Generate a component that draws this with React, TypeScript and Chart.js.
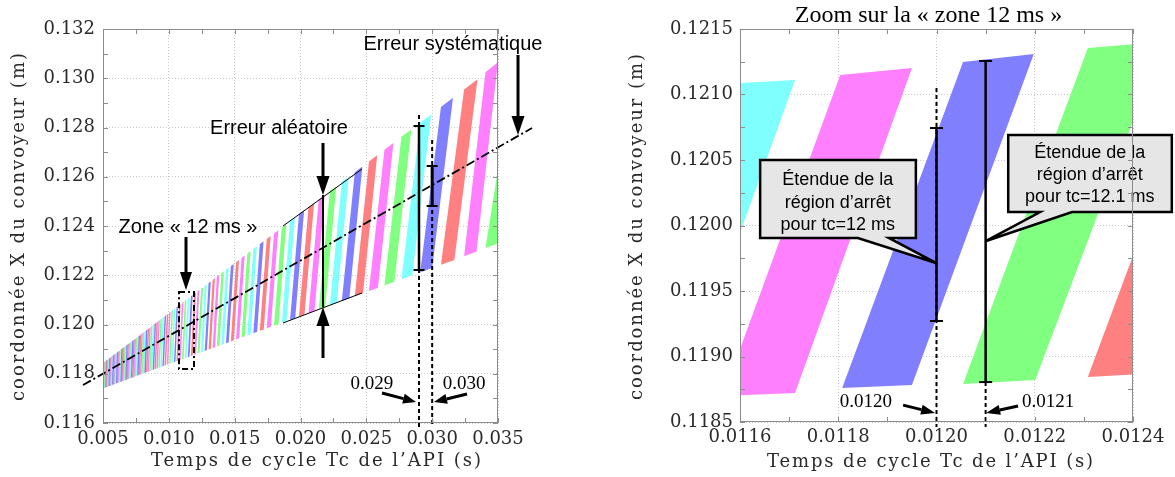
import React, { useEffect, useRef } from 'react';
import { Chart, registerables } from 'chart.js';

Chart.register(...registerables);

// ---------------- tick values ----------------
const leftXTicks = [0.005, 0.01, 0.015, 0.02, 0.025, 0.03, 0.035];
const leftYTicks = [0.116, 0.118, 0.12, 0.122, 0.124, 0.126, 0.128, 0.13, 0.132];
const zoomXTicks = [0.0116, 0.0118, 0.012, 0.0122, 0.0124];
const zoomYTicks = [0.1185, 0.119, 0.1195, 0.12, 0.1205, 0.121, 0.1215];

// ---------------- left chart: stop regions (one band per cycle count) ----------------
// band order of the first band (colour cycles with it)
const firstBandOrder = 114;
// x of each band's lower-left corner (band i runs from edge i at the bottom to edge i+1 at the top)
const bandEdgeX = [
  0.004985, 0.005029, 0.005075, 0.00512, 0.005167, 0.005215, 0.005263, 0.005313, 0.005363, 0.005415, 0.005467,
  0.00552, 0.005575, 0.00563, 0.005687, 0.005745, 0.005804, 0.005864, 0.005925, 0.005988, 0.006052,
  0.006117, 0.006184, 0.006253, 0.006323, 0.006394, 0.006467, 0.006542, 0.006619, 0.006697, 0.006777,
  0.00686, 0.006944, 0.00703, 0.007119, 0.007209, 0.007302, 0.007398, 0.007496, 0.007597, 0.0077,
  0.007807, 0.007916, 0.008028, 0.008144, 0.008263, 0.008385, 0.008511, 0.008642, 0.008776, 0.008914,
  0.009057, 0.009204, 0.009356, 0.009514, 0.009677, 0.009845, 0.01002, 0.0102, 0.010388, 0.010582,
  0.010784, 0.010993, 0.011211, 0.011438, 0.011674, 0.01192, 0.012177, 0.012445, 0.012725, 0.013018,
  0.013325, 0.013646, 0.013984, 0.014338, 0.014711, 0.015104, 0.015519, 0.015957, 0.01642, 0.016911,
  0.017432, 0.017987, 0.018578, 0.019209, 0.019884, 0.020609, 0.021388, 0.022229, 0.023138, 0.024125,
  0.025201, 0.026376, 0.027666, 0.02909, 0.030667, 0.032426, 0.03405, 0.036526,
];
// lowest stop position at each edge
const bandLowY = [
  0.117417, 0.117426, 0.117435, 0.117443, 0.117453, 0.117462, 0.117471, 0.117481, 0.117491, 0.117501, 0.117511,
  0.117521, 0.117532, 0.117543, 0.117554, 0.117565, 0.117577, 0.117589, 0.1176, 0.117613, 0.117625,
  0.117638, 0.117651, 0.117664, 0.117678, 0.117692, 0.117706, 0.117721, 0.117736, 0.117751, 0.117767,
  0.117783, 0.117799, 0.117816, 0.117833, 0.117851, 0.117869, 0.117888, 0.117907, 0.117926, 0.117947,
  0.117967, 0.117989, 0.11801, 0.118033, 0.118056, 0.11808, 0.118105, 0.11813, 0.118156, 0.118183,
  0.118211, 0.11824, 0.118269, 0.1183, 0.118332, 0.118365, 0.118399, 0.118434, 0.118471, 0.118509,
  0.118548, 0.118589, 0.118631, 0.118675, 0.118721, 0.118769, 0.11882, 0.118872, 0.118926, 0.118984,
  0.119043, 0.119106, 0.119172, 0.119241, 0.119314, 0.11939, 0.119471, 0.119557, 0.119647, 0.119743,
  0.119844, 0.119953, 0.120068, 0.120191, 0.120322, 0.120464, 0.120616, 0.12078, 0.120957, 0.121149,
  0.121359, 0.121588, 0.12184, 0.122118, 0.122425, 0.122768, 0.123104, 0.123587,
];
// highest stop position at each edge
const bandHighY = [
  0.118434, 0.118452, 0.11847, 0.118489, 0.118508, 0.118527, 0.118547, 0.118567, 0.118587, 0.118608, 0.118629,
  0.118651, 0.118673, 0.118695, 0.118718, 0.118742, 0.118766, 0.11879, 0.118815, 0.11884, 0.118866,
  0.118892, 0.11892, 0.118948, 0.118976, 0.119005, 0.119034, 0.119065, 0.119096, 0.119127, 0.11916,
  0.119193, 0.119227, 0.119262, 0.119298, 0.119335, 0.119372, 0.119411, 0.119451, 0.119492, 0.119534,
  0.119577, 0.119621, 0.119666, 0.119713, 0.119762, 0.119811, 0.119862, 0.119915, 0.119969, 0.120025,
  0.120083, 0.120143, 0.120204, 0.120268, 0.120334, 0.120402, 0.120473, 0.120546, 0.120622, 0.120701,
  0.120783, 0.120867, 0.120956, 0.121047, 0.121143, 0.121243, 0.121347, 0.121455, 0.121569, 0.121687,
  0.121812, 0.121942, 0.122079, 0.122222, 0.122373, 0.122532, 0.1227, 0.122878, 0.123065, 0.123264,
  0.123475, 0.1237, 0.123939, 0.124195, 0.124468, 0.124762, 0.125077, 0.125418, 0.125786, 0.126186,
  0.126621, 0.127097, 0.12762, 0.128197, 0.128835, 0.129548, 0.130246, 0.131449,
];
// mean stop position (systematic error)
const meanLineX = [0.00348, 0.03758];
const meanLineY = [0.11754, 0.12798];
// envelope of the random error
const envelopeX = [0.018671, 0.024671];
const envelopeTopY = [0.124, 0.126315];
const envelopeBottomY = [0.120061, 0.121279];

// ---------------- right chart: zoom on the 12 ms zone ----------------
// corners: lower-left, lower-right, upper-right, upper-left
const zoomBandColor = ['#80ffff', '#ff80ff', '#8080ff', '#80ff80', '#ff8080'];
const zoomBandX = [
  [0.011327, 0.011474, 0.011712, 0.011565],
  [0.011565, 0.011712, 0.01195, 0.011804],
  [0.011808, 0.01195, 0.012198, 0.012054],
  [0.012054, 0.012201, 0.012461, 0.012308],
  [0.012308, 0.012455, 0.012703, 0.012557],
];
const zoomBandY = [
  [0.118591, 0.11863, 0.121111, 0.12108],
  [0.118698, 0.118721, 0.121202, 0.121149],
  [0.118759, 0.118782, 0.121309, 0.121248],
  [0.11879, 0.118821, 0.121401, 0.121355],
  [0.118843, 0.118874, 0.121378, 0.121347],
];

// colours by band order modulo 5
const PALETTE = ['#8080ff', '#80ffff', '#80ff80', '#ff80ff', '#ff8080'];
const BAND_FILL = 0.58;
const MIN_BAND_PX = 1.5;

const TICK_FONT = 'DejaVu Serif';
const SANS = '"Liberation Sans", Arial, sans-serif';
const SERIF = '"Liberation Serif", "Times New Roman", serif';

// ---------------- helpers ----------------
function withMinor(t: number[]) {
  const out: number[] = [];
  for (let i = 0; i < t.length; i++) {
    out.push(t[i]);
    if (i < t.length - 1) out.push((t[i] + t[i + 1]) / 2);
  }
  return out;
}

function axis(ticks: number[], digits: number, isX: boolean, size: number, pad: number) {
  return {
    type: 'linear',
    position: isX ? 'bottom' : 'left',
    min: ticks[0],
    max: ticks[ticks.length - 1],
    afterBuildTicks: (s: any) => {
      s.ticks = ticks.map((v) => ({ value: v }));
    },
    afterFit: (s: any) => {
      if (isX) s.height = size;
      else s.width = size;
    },
    ticks: {
      callback: (v: any) => Number(v).toFixed(digits),
      font: { family: TICK_FONT, size: 18 },
      color: '#2a2a2a',
      padding: pad,
      maxRotation: 0,
      autoSkip: false,
    },
    grid: { color: '#c8c8c8', lineWidth: 1, drawTicks: false },
    border: { display: false, dash: [1, 2] },
  };
}

function spacedText(ctx: any, text: string, cx: number, cy: number, target: number, rotate: boolean) {
  ctx.save();
  ctx.translate(cx, cy);
  if (rotate) ctx.rotate(-Math.PI / 2);
  ctx.font = `18px "${TICK_FONT}"`;
  ctx.fillStyle = '#2a2a2a';
  ctx.letterSpacing = '0px';
  const w0 = ctx.measureText(text).width;
  const ls = (target - w0) / text.length;
  ctx.letterSpacing = `${ls}px`;
  ctx.textAlign = 'left';
  ctx.textBaseline = 'middle';
  ctx.fillText(text, -target / 2, 0);
  ctx.letterSpacing = '0px';
  ctx.restore();
}

function arrow(ctx: any, x1: number, y1: number, x2: number, y2: number, lw: number, hl: number, hw: number) {
  const a = Math.atan2(y2 - y1, x2 - x1);
  const bx = x2 - hl * Math.cos(a);
  const by = y2 - hl * Math.sin(a);
  ctx.lineWidth = lw;
  ctx.setLineDash([]);
  ctx.beginPath();
  ctx.moveTo(x1, y1);
  ctx.lineTo(bx, by);
  ctx.stroke();
  ctx.beginPath();
  ctx.moveTo(x2, y2);
  ctx.lineTo(bx + (hw / 2) * Math.sin(a), by - (hw / 2) * Math.cos(a));
  ctx.lineTo(bx - (hw / 2) * Math.sin(a), by + (hw / 2) * Math.cos(a));
  ctx.closePath();
  ctx.fill();
}

function seg(ctx: any, x1: number, y1: number, x2: number, y2: number, lw: number, dash: number[]) {
  ctx.lineWidth = lw;
  ctx.setLineDash(dash);
  ctx.beginPath();
  ctx.moveTo(x1, y1);
  ctx.lineTo(x2, y2);
  ctx.stroke();
  ctx.setLineDash([]);
}

function capBar(ctx: any, x: number, y1: number, y2: number, lw: number, cap: number) {
  seg(ctx, x, y1, x, y2, lw, []);
  seg(ctx, x - cap / 2, y1, x + cap / 2, y1, 2, []);
  seg(ctx, x - cap / 2, y2, x + cap / 2, y2, 2, []);
}

function label(ctx: any, text: string, x: number, y: number, font: string) {
  ctx.font = font;
  ctx.fillStyle = '#000';
  ctx.textAlign = 'center';
  ctx.textBaseline = 'middle';
  ctx.fillText(text, x, y);
}

function framePlugin(xTicks: number[], yTicks: number[], titles: any[]) {
  return {
    id: 'frame',
    afterDraw(chart: any) {
      const { ctx, chartArea: a } = chart;
      const { x, y } = chart.scales;
      ctx.save();
      ctx.strokeStyle = '#8c8c8c';
      ctx.lineWidth = 1;
      ctx.setLineDash([]);
      ctx.strokeRect(a.left + 0.5, a.top + 0.5, a.right - a.left - 1, a.bottom - a.top - 1);
      ctx.beginPath();
      for (const v of withMinor(xTicks)) {
        const p = Math.round(x.getPixelForValue(v)) + 0.5;
        ctx.moveTo(p, a.bottom);
        ctx.lineTo(p, a.bottom - 5);
        ctx.moveTo(p, a.top);
        ctx.lineTo(p, a.top + 5);
      }
      for (const v of withMinor(yTicks)) {
        const p = Math.round(y.getPixelForValue(v)) + 0.5;
        ctx.moveTo(a.left, p);
        ctx.lineTo(a.left + 5, p);
        ctx.moveTo(a.right, p);
        ctx.lineTo(a.right - 5, p);
      }
      ctx.stroke();
      for (const t of titles) spacedText(ctx, t.text, t.cx, t.cy, t.width, t.rotate);
      ctx.restore();
    },
  };
}

// ---------------- left chart plugins ----------------
const leftBandsPlugin = {
  id: 'leftBands',
  beforeDatasetsDraw(chart: any) {
    const { ctx, chartArea: a } = chart;
    const { x, y } = chart.scales;
    ctx.save();
    ctx.beginPath();
    ctx.rect(a.left, a.top, a.right - a.left, a.bottom - a.top);
    ctx.clip();
    for (let i = 0; i < bandEdgeX.length - 1; i++) {
      const n = firstBandOrder - i;
      const x0 = bandEdgeX[i];
      const x1 = bandEdgeX[i + 1];
      const px0 = x.getPixelForValue(x0);
      const px1 = x.getPixelForValue(x1);
      const pw = Math.max(BAND_FILL * (px1 - px0), MIN_BAND_PX);
      const yb0 = bandLowY[i];
      const yb1 = bandLowY[i] + BAND_FILL * (bandLowY[i + 1] - bandLowY[i]);
      const yt0 = bandHighY[i + 1];
      const yt1 = bandHighY[i + 1] + BAND_FILL * (bandHighY[i + 1] - bandHighY[i]);
      ctx.fillStyle = PALETTE[n % 5];
      ctx.beginPath();
      ctx.moveTo(px0, y.getPixelForValue(yb0));
      ctx.lineTo(px0 + pw, y.getPixelForValue(yb1));
      ctx.lineTo(px1 + pw, y.getPixelForValue(yt1));
      ctx.lineTo(px1, y.getPixelForValue(yt0));
      ctx.closePath();
      ctx.fill();
    }
    ctx.restore();
  },
};

const leftNotes = {
  random: { x: 0.021709, tipTop: 0.125259, tipBottom: 0.120711, fromTop: 0.12737, fromBottom: 0.118639, tx: 0.018367, ty: 0.12798 },
  system: { tx: 0.031583, ty: 0.131391, ax: 0.03652, from: 0.130944, tip: 0.127695 },
  zone: { tx: 0.011456, ty: 0.123959, ax: 0.011304, from: 0.123553, tip: 0.121401, x0: 0.010772, x1: 0.011911, y0: 0.11819, y1: 0.12132 },
  tc029: { x: 0.029, dashTop: 0.128508, dashBottom: 0.115838, barTop: 0.128061, barBottom: 0.122213, lx: 0.02543, ly: 0.117584, ax0: 0.02619, ay0: 0.117218, ax1: 0.028773, ay1: 0.116853 },
  tc030: { x: 0.03, dashTop: 0.127492, dashBottom: 0.115838, barTop: 0.126437, barBottom: 0.124812, lx: 0.032418, ly: 0.117584, ax0: 0.032646, ay0: 0.117177, ax1: 0.030139, ay1: 0.116853 },
};

const leftNotesPlugin = {
  id: 'leftNotes',
  afterDatasetsDraw(chart: any) {
    const { ctx } = chart;
    const X = (v: number) => chart.scales.x.getPixelForValue(v);
    const Y = (v: number) => chart.scales.y.getPixelForValue(v);
    ctx.save();
    ctx.strokeStyle = '#000';
    ctx.fillStyle = '#000';
    const r = leftNotes.random;
    seg(ctx, X(r.x), Y(r.tipTop), X(r.x), Y(r.tipBottom), 2, []);
    arrow(ctx, X(r.x), Y(r.fromTop), X(r.x), Y(r.tipTop), 3, 19, 13);
    arrow(ctx, X(r.x), Y(r.fromBottom), X(r.x), Y(r.tipBottom), 3, 19, 13);
    label(ctx, 'Erreur aléatoire', X(r.tx), Y(r.ty), `20px ${SANS}`);
    const s = leftNotes.system;
    label(ctx, 'Erreur systématique', X(s.tx), Y(s.ty), `20px ${SANS}`);
    arrow(ctx, X(s.ax), Y(s.from), X(s.ax), Y(s.tip), 3, 19, 13);
    const z = leftNotes.zone;
    label(ctx, 'Zone « 12 ms »', X(z.tx), Y(z.ty), `20px ${SANS}`);
    arrow(ctx, X(z.ax), Y(z.from), X(z.ax), Y(z.tip), 3, 18, 12);
    ctx.lineWidth = 2;
    ctx.setLineDash([6, 3, 2, 3]);
    ctx.strokeRect(X(z.x0), Y(z.y1), X(z.x1) - X(z.x0), Y(z.y0) - Y(z.y1));
    ctx.setLineDash([]);
    for (const [k, txt] of [['tc029', '0.029'], ['tc030', '0.030']] as const) {
      const t: any = (leftNotes as any)[k];
      seg(ctx, X(t.x), Y(t.dashTop), X(t.x), Y(t.dashBottom), 2, [4, 3]);
      capBar(ctx, X(t.x), Y(t.barTop), Y(t.barBottom), k === 'tc030' ? 3 : 2.5, 11);
      label(ctx, txt, X(t.lx), Y(t.ly), `19px ${SERIF}`);
      arrow(ctx, X(t.ax0), Y(t.ay0), X(t.ax1), Y(t.ay1), 3, 13, 10);
    }
    ctx.restore();
  },
};

// ---------------- right chart plugins ----------------
const zoomBandsPlugin = {
  id: 'zoomBands',
  beforeDatasetsDraw(chart: any) {
    const { ctx, chartArea: a } = chart;
    const { x, y } = chart.scales;
    ctx.save();
    ctx.beginPath();
    ctx.rect(a.left, a.top, a.right - a.left, a.bottom - a.top);
    ctx.clip();
    zoomBandX.forEach((xs, i) => {
      const ys = zoomBandY[i];
      ctx.fillStyle = zoomBandColor[i];
      ctx.beginPath();
      xs.forEach((xv, j) => {
        const px = x.getPixelForValue(xv);
        const py = y.getPixelForValue(ys[j]);
        if (j === 0) ctx.moveTo(px, py);
        else ctx.lineTo(px, py);
      });
      ctx.closePath();
      ctx.fill();
    });
    ctx.restore();
  },
};

const zoomNotes = {
  tc120: { x: 0.012, dashTop: 0.12105, dashBottom: 0.118462, barTop: 0.120744, barBottom: 0.119271, lx: 0.011856, ly: 0.118652, ax0: 0.011932, ay0: 0.118629, ax1: 0.011997, ay1: 0.118569 },
  tc121: { x: 0.0121, barTop: 0.121256, barBottom: 0.118805, dashBottom: 0.118462, lx: 0.012227, ly: 0.118652, ax0: 0.012166, ay0: 0.118622, ax1: 0.012101, ay1: 0.118569 },
  box1: { x0: 0.011641, x1: 0.011958, top: 0.1205, bottom: 0.119905, baseL: 0.01184, baseR: 0.011903, tipX: 0.011999, tipY: 0.119714, tx: 0.011799, lines: [0.120347, 0.120172, 0.120004], text: ['Étendue de la', 'région d’arrêt', 'pour tc=12 ms'] },
  box2: { x0: 0.012146, x1: 0.012479, top: 0.120691, bottom: 0.120103, baseL: 0.012211, baseR: 0.012276, tipX: 0.012101, tipY: 0.119882, tx: 0.012312, lines: [0.120553, 0.120385, 0.120218], text: ['Étendue de la', 'région d’arrêt', 'pour tc=12.1 ms'] },
};

const zoomNotesPlugin = {
  id: 'zoomNotes',
  afterDatasetsDraw(chart: any) {
    const { ctx } = chart;
    const X = (v: number) => chart.scales.x.getPixelForValue(v);
    const Y = (v: number) => chart.scales.y.getPixelForValue(v);
    ctx.save();
    ctx.strokeStyle = '#000';
    ctx.fillStyle = '#000';
    const a = zoomNotes.tc120;
    seg(ctx, X(a.x), Y(a.dashTop), X(a.x), Y(a.dashBottom), 2, [4, 3]);
    capBar(ctx, X(a.x), Y(a.barTop), Y(a.barBottom), 2.5, 13);
    const b = zoomNotes.tc121;
    capBar(ctx, X(b.x), Y(b.barTop), Y(b.barBottom), 2.5, 13);
    seg(ctx, X(b.x), Y(b.barBottom), X(b.x), Y(b.dashBottom), 2, [4, 3]);
    for (const [t, txt] of [[a, '0.0120'], [b, '0.0121']] as any) {
      label(ctx, txt, X(t.lx), Y(t.ly), `19px ${SERIF}`);
      ctx.fillStyle = '#000';
      arrow(ctx, X(t.ax0), Y(t.ay0), X(t.ax1), Y(t.ay1), 3, 14, 10);
    }
    for (const bx of [zoomNotes.box1, zoomNotes.box2]) {
      ctx.beginPath();
      ctx.moveTo(X(bx.x0), Y(bx.top));
      ctx.lineTo(X(bx.x1), Y(bx.top));
      ctx.lineTo(X(bx.x1), Y(bx.bottom));
      ctx.lineTo(X(bx.baseR), Y(bx.bottom));
      ctx.lineTo(X(bx.tipX), Y(bx.tipY));
      ctx.lineTo(X(bx.baseL), Y(bx.bottom));
      ctx.lineTo(X(bx.x0), Y(bx.bottom));
      ctx.closePath();
      ctx.fillStyle = '#e6e6e6';
      ctx.fill();
      ctx.lineWidth = 2.5;
      ctx.lineJoin = 'miter';
      ctx.strokeStyle = '#000';
      ctx.stroke();
      bx.text.forEach((t, i) => label(ctx, t, X(bx.tx), Y(bx.lines[i]), `18px ${SANS}`));
    }
    ctx.restore();
  },
  afterDraw(chart: any) {
    const { ctx, chartArea: ar } = chart;
    ctx.save();
    label(ctx, 'Zoom sur la « zone 12 ms »', (ar.left + ar.right) / 2 - 8, 16, `24px ${SERIF}`);
    ctx.restore();
  },
};

const baseOptions = {
  responsive: false,
  maintainAspectRatio: false,
  animation: false,
  events: [],
  plugins: { legend: { display: false }, tooltip: { enabled: false }, title: { display: false } },
};

export default function App() {
  const leftRef = useRef<HTMLCanvasElement>(null);
  const rightRef = useRef<HTMLCanvasElement>(null);

  useEffect(() => {
    const left = new Chart(leftRef.current as HTMLCanvasElement, {
      type: 'line',
      data: {
        datasets: [
          {
            data: meanLineX.map((v, i) => ({ x: v, y: meanLineY[i] })),
            borderColor: '#000',
            borderWidth: 1.8,
            borderDash: [9, 3, 2, 3],
            pointRadius: 0,
            clip: false,
          },
          {
            data: envelopeX.map((v, i) => ({ x: v, y: envelopeTopY[i] })),
            borderColor: '#000',
            borderWidth: 1,
            pointRadius: 0,
          },
          {
            data: envelopeX.map((v, i) => ({ x: v, y: envelopeBottomY[i] })),
            borderColor: '#000',
            borderWidth: 1,
            pointRadius: 0,
          },
        ],
      },
      options: {
        ...baseOptions,
        layout: { padding: { top: 29, right: 77, left: 0, bottom: 0 } },
        scales: {
          x: axis(leftXTicks, 3, true, 54, 6),
          y: axis(leftYTicks, 3, false, 103, 8),
        },
      } as any,
      plugins: [
        leftBandsPlugin,
        leftNotesPlugin,
        framePlugin(leftXTicks, leftYTicks, [
          { text: 'Temps de cycle Tc de l’API (s)', cx: 317, cy: 461, width: 332, rotate: false },
          { text: 'coordonnée X du convoyeur (m)', cx: 19, cy: 226, width: 350, rotate: true },
        ]),
      ],
    });

    const right = new Chart(rightRef.current as HTMLCanvasElement, {
      type: 'line',
      data: { datasets: [] },
      options: {
        ...baseOptions,
        layout: { padding: { top: 29, right: 42, left: 0, bottom: 0 } },
        scales: {
          x: axis(zoomXTicks, 4, true, 55, 5),
          y: axis(zoomYTicks, 4, false, 165, 7),
        },
      } as any,
      plugins: [
        zoomBandsPlugin,
        zoomNotesPlugin,
        framePlugin(zoomXTicks, zoomYTicks, [
          { text: 'Temps de cycle Tc de l’API (s)', cx: 356, cy: 462, width: 328, rotate: false },
          { text: 'coordonnée X du convoyeur (m)', cx: 62, cy: 226, width: 348, rotate: true },
        ]),
      ],
    });

    return () => {
      left.destroy();
      right.destroy();
    };
  }, []);

  return (
    <div style={{ position: 'fixed', left: 0, top: 0, width: 1175, height: 477, background: '#fff' }}>
      <canvas ref={leftRef} width={575} height={477} style={{ position: 'absolute', left: 0, top: 0, width: 575, height: 477 }} />
      <canvas ref={rightRef} width={600} height={477} style={{ position: 'absolute', left: 575, top: 0, width: 600, height: 477 }} />
    </div>
  );
}
